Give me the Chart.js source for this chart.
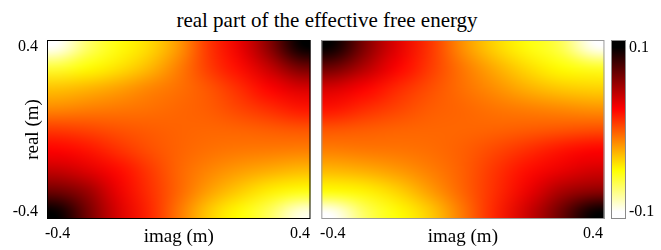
<!DOCTYPE html>
<html>
<head>
<meta charset="utf-8">
<script src="https://cdn.jsdelivr.net/npm/chart.js@4.4.1/dist/chart.umd.min.js"></script>
<style>
  html, body { margin: 0; padding: 0; background: #fff; }
  #wrap { position: relative; width: 661px; height: 250px; font-family: 'Liberation Serif', serif; }
  #title { position: absolute; left: 0; top: 8px; width: 654px; text-align: center; font-size: 21px; line-height: 24px; color: #000; }
  .box { position: absolute; top: 0; height: 250px; }
</style>
</head>
<body>
<div id="wrap">
  <div id="title">real part of the effective free energy</div>
  <div class="box" style="left:0;width:315px"><canvas id="left-map"></canvas></div>
  <div class="box" style="left:315px;width:293px"><canvas id="right-map"></canvas></div>
  <div class="box" style="left:608px;width:53px"><canvas id="colorbar"></canvas></div>
</div>
<script>
// sample points of the maps (cell centres)
const xGrid = [-0.4, -0.3, -0.2, -0.1, 0, 0.1, 0.2, 0.3, 0.4];
const yGrid = [0.4, 0.3, 0.2, 0.1, 0, -0.1, -0.2, -0.3, -0.4];

// left map, rows from top (real = 0.4) to bottom (real = -0.4)
const leftValues = [
  [-0.1, -0.07, -0.052, -0.04, -0.02, 0.01, 0.03, 0.06, 0.1],
  [-0.06, -0.05, -0.042, -0.03, -0.012, 0.008, 0.022, 0.042, 0.066],
  [-0.032, -0.028, -0.022, -0.014, -0.008, 0.0, 0.012, 0.025, 0.036],
  [-0.015, -0.012, -0.01, -0.008, -0.005, -0.002, 0.005, 0.012, 0.019],
  [0.008, 0.005, 0.001, -0.002, -0.004, -0.005, -0.004, -0.002, 0.0],
  [0.025, 0.02, 0.011, 0.002, -0.004, -0.008, -0.01, -0.011, -0.012],
  [0.042, 0.034, 0.023, 0.009, -0.005, -0.014, -0.021, -0.026, -0.03],
  [0.067, 0.055, 0.03, 0.012, -0.005, -0.022, -0.035, -0.046, -0.052],
  [0.1, 0.066, 0.036, 0.015, -0.01, -0.035, -0.05, -0.068, -0.095]
];

// right map, same layout
const rightValues = [
  [0.1, 0.062, 0.033, 0.01, -0.018, -0.038, -0.052, -0.065, -0.1],
  [0.068, 0.047, 0.025, 0.008, -0.01, -0.026, -0.04, -0.05, -0.056],
  [0.036, 0.025, 0.013, 0.002, -0.008, -0.017, -0.027, -0.034, -0.037],
  [0.02, 0.012, 0.005, -0.002, -0.005, -0.009, -0.012, -0.015, -0.018],
  [0.0, -0.002, -0.004, -0.005, -0.005, -0.004, -0.002, 0.0, 0.002],
  [-0.012, -0.01, -0.009, -0.007, -0.003, 0.004, 0.012, 0.02, 0.025],
  [-0.029, -0.026, -0.02, -0.012, -0.003, 0.01, 0.022, 0.031, 0.038],
  [-0.05, -0.047, -0.037, -0.021, -0.004, 0.012, 0.03, 0.05, 0.058],
  [-0.1, -0.068, -0.05, -0.035, -0.01, 0.015, 0.04, 0.068, 0.1]
];

const xTicks = [-0.4, 0.4];
const xTickLabels = ['-0.4', '0.4'];
const yTicks = [-0.4, 0.4];
const yTickLabels = ['-0.4', '0.4'];
const cbarTicks = [-0.1, 0.1];
const cbarTickLabels = ['-0.1', '0.1'];
const colorMin = -0.1;
const colorMax = 0.1;

const axisMin = -0.435, axisMax = 0.435;
const tickFont = { family: 'Liberation Serif', size: 16 };
const labelFont = { family: 'Liberation Serif', size: 19 };

// reversed "hot" colour map: colorMax -> black, colorMin -> white
function hot(v) {
  let t = (colorMax - v) / (colorMax - colorMin);
  t = Math.max(0, Math.min(1, t));
  const r = Math.min(1, t / 0.375);
  const g = Math.max(0, Math.min(1, (t - 0.375) / 0.375));
  const b = Math.max(0, Math.min(1, (t - 0.75) / 0.25));
  return [Math.round(r * 255), Math.round(g * 255), Math.round(b * 255)];
}

function gridPoints(values) {
  const pts = [];
  yGrid.forEach((yv, r) => xGrid.forEach((xv, c) => pts.push({ x: xv, y: yv, v: values[r][c] })));
  return pts;
}

const heatmapPlugin = {
  id: 'heatmap',
  beforeDatasetsDraw(chart, args, opts) {
    const pts = chart.data.datasets[0].data;
    if (!pts.length) return;
    const { ctx, chartArea, scales: { x, y } } = chart;
    const cols = xGrid.length, rows = yGrid.length;
    const off = document.createElement('canvas');
    off.width = cols;
    off.height = rows;
    const octx = off.getContext('2d');
    const img = octx.createImageData(cols, rows);
    pts.forEach(p => {
      const c = xGrid.indexOf(p.x), r = yGrid.indexOf(p.y);
      const [cr, cg, cb] = hot(p.v);
      const k = (r * cols + c) * 4;
      img.data[k] = cr; img.data[k + 1] = cg; img.data[k + 2] = cb; img.data[k + 3] = 255;
    });
    octx.putImageData(img, 0, 0);
    const dx = (xGrid[1] - xGrid[0]) / 2;
    const dy = (yGrid[0] - yGrid[1]) / 2;
    const left = x.getPixelForValue(xGrid[0] - dx);
    const right = x.getPixelForValue(xGrid[cols - 1] + dx);
    const top = y.getPixelForValue(yGrid[0] + dy);
    const bottom = y.getPixelForValue(yGrid[rows - 1] - dy);
    ctx.save();
    ctx.beginPath();
    ctx.rect(chartArea.left, chartArea.top, chartArea.width, chartArea.height);
    ctx.clip();
    ctx.imageSmoothingEnabled = true;
    ctx.imageSmoothingQuality = 'high';
    ctx.drawImage(off, left, top, right - left, bottom - top);
    ctx.restore();
  },
  afterDraw(chart, args, opts) {
    const { ctx, chartArea } = chart;
    ctx.save();
    ctx.strokeStyle = opts.border || '#000';
    ctx.lineWidth = opts.lineWidth || 1;
    ctx.strokeRect(chartArea.left + 0.5, chartArea.top + 0.5, chartArea.width - 1, chartArea.height - 1);
    ctx.restore();
  }
};

const colorbarPlugin = {
  id: 'colorbar',
  beforeDatasetsDraw(chart, args, opts) {
    if (!opts.show) return;
    const { ctx, chartArea, scales: { y } } = chart;
    const grad = ctx.createLinearGradient(0, chartArea.top, 0, chartArea.bottom);
    // breakpoints of the hot map plus the ends of the axis
    const stops = [y.max, colorMax, colorMax - 0.375 * (colorMax - colorMin),
                   colorMax - 0.75 * (colorMax - colorMin), colorMin, y.min];
    stops.forEach(v => {
      const off = (y.getPixelForValue(v) - chartArea.top) / chartArea.height;
      const [r, g, b] = hot(v);
      grad.addColorStop(Math.max(0, Math.min(1, off)), `rgb(${r},${g},${b})`);
    });
    ctx.save();
    ctx.fillStyle = grad;
    ctx.fillRect(chartArea.left, chartArea.top, chartArea.width, chartArea.height);
    ctx.strokeStyle = '#8a8a8a';
    ctx.lineWidth = 1;
    ctx.strokeRect(chartArea.left + 0.5, chartArea.top + 0.5, chartArea.width - 1, chartArea.height - 1);
    ctx.restore();
  }
};

function xAxis() {
  return {
    type: 'linear', min: axisMin, max: axisMax,
    grid: { display: false, drawTicks: false }, border: { display: false },
    afterBuildTicks: s => { s.ticks = xTicks.map(v => ({ value: v })); },
    afterFit: s => { s.height = 31; },
    ticks: { padding: 5, font: tickFont, color: '#000', maxRotation: 0, autoSkip: false,
             callback: (v, i) => xTickLabels[i] },
    title: { display: true, text: 'imag (m)', font: labelFont, color: '#000', padding: { top: 0, bottom: 2 } }
  };
}

function mapChart(id, values, showY, border, padding) {
  return new Chart(document.getElementById(id).getContext('2d'), {
    type: 'scatter',
    data: { datasets: [{ data: gridPoints(values), pointRadius: 0, showLine: false }] },
    plugins: [heatmapPlugin],
    options: {
      responsive: true, maintainAspectRatio: false, animation: false,
      layout: { padding: padding },
      plugins: { legend: { display: false }, tooltip: { enabled: false }, heatmap: { border: border } },
      scales: {
        x: xAxis(),
        y: {
          type: 'linear', min: axisMin, max: axisMax, display: showY,
          grid: { display: false, drawTicks: false }, border: { display: false },
          afterBuildTicks: s => { s.ticks = yTicks.map(v => ({ value: v })); },
          afterFit: s => { s.width = showY ? 47 : 0; },
          ticks: { padding: 9, font: tickFont, color: '#000', autoSkip: false,
                   callback: (v, i) => yTickLabels[i] },
          title: { display: true, text: 'real (m)', font: labelFont, color: '#000', padding: { top: 22, bottom: 0 } }
        }
      }
    }
  });
}

document.addEventListener('DOMContentLoaded', function() {
  // Left map with the real axis
  mapChart('left-map', leftValues, true, '#000', { top: 40, right: 3, left: 0, bottom: 0 });

  // Right map
  mapChart('right-map', rightValues, false, '#9a9a9a', { top: 40, right: 2, left: 3, bottom: 0 });

  // Colour bar
  new Chart(document.getElementById('colorbar').getContext('2d'), {
    type: 'scatter',
    data: { datasets: [{ data: [], pointRadius: 0 }] },
    plugins: [colorbarPlugin],
    options: {
      responsive: true, maintainAspectRatio: false, animation: false,
      layout: { padding: { top: 40, bottom: 31, left: 3, right: 0 } },
      plugins: { legend: { display: false }, tooltip: { enabled: false }, colorbar: { show: true } },
      scales: {
        x: { type: 'linear', min: 0, max: 1, display: false },
        y: {
          type: 'linear', position: 'right', min: -0.109, max: 0.109,
          grid: { display: false, drawTicks: false }, border: { display: false },
          afterBuildTicks: s => { s.ticks = cbarTicks.map(v => ({ value: v })); },
          afterFit: s => { s.width = 35; },
          ticks: { padding: 3, font: tickFont, color: '#000', autoSkip: false,
                   callback: (v, i) => cbarTickLabels[i] }
        }
      }
    }
  });
});
</script>
</body>
</html>
